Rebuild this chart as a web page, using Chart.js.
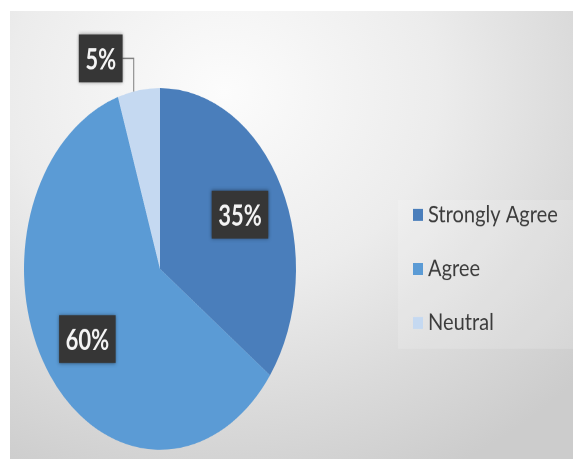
<!DOCTYPE html>
<html><head><meta charset="utf-8">
<script src="https://cdn.jsdelivr.net/npm/chart.js@4"></script>
<style>
html,body{margin:0;padding:0;background:#fff;width:573px;height:459px;overflow:hidden}
#frame{position:absolute;left:10px;top:11px;width:563px;height:448px;
 background:radial-gradient(ellipse 85% 95% at 38% 18%, #fcfcfc 0%, #ececec 45%, #dadada 75%, #cccccc 100%);}
#wrap{position:absolute;left:0;top:0;width:563px;height:337px;transform:scaleY(1.3294);transform-origin:0 0}
</style></head>
<body>
<div id="frame"><div id="wrap"><canvas id="c"></canvas></div></div>
<script>
const categories = ['Strongly Agree', 'Agree', 'Neutral'];
const values = [35, 60, 5];
const colors = ['#4a7ebb', '#5b9bd5', '#c5d9f1'];

const FONT = 'Lato, "Open Sans", sans-serif';

const legendPlugin = {
  id: 'sideLegend',
  afterDraw(chart) {
    const ctx = chart.ctx;
    const ca = chart.chartArea;
    const cy = (ca.top + ca.bottom) / 2;
    ctx.save();
    ctx.fillStyle = 'rgba(255,255,255,0.16)';
    ctx.fillRect(388, cy - 52, 175, 112);
    const labels = chart.data.labels;
    const bg = chart.data.datasets[0].backgroundColor;
    ctx.font = '17px ' + FONT;
    ctx.textBaseline = 'middle';
    labels.forEach((lab, i) => {
      const y = cy + (i - 1) * 40.6;
      ctx.fillStyle = bg[i];
      ctx.fillRect(403, y - 4.5, 10, 9);
      ctx.save();
      ctx.translate(418, y);
      ctx.scale(1.18, 1);
      ctx.fillStyle = '#3c3c3c';
      ctx.fillText(lab, 0, 0);
      ctx.restore();
    });
    ctx.restore();
  }
};

const labelPlugin = {
  id: 'boxLabels',
  afterDatasetsDraw(chart) {
    const ctx = chart.ctx;
    const meta = chart.getDatasetMeta(0);
    const data = chart.data.datasets[0].data;
    const total = data.reduce((a, b) => a + b, 0);
    ctx.save();
    ctx.font = 'bold 22px ' + FONT;
    ctx.textAlign = 'center';
    ctx.textBaseline = 'middle';
    meta.data.forEach((arc, i) => {
      const p = arc.getProps(['x', 'y', 'startAngle', 'endAngle', 'outerRadius'], true);
      const mid = (p.startAngle + p.endAngle) / 2;
      const text = data[i] + '%';
      const tw = ctx.measureText(text).width;
      const w = tw + 13, h = 36;
      let bx, by;
      if (data[i] / total >= 0.1) {
        bx = p.x + Math.cos(mid) * p.outerRadius * 0.66;
        by = p.y + Math.sin(mid) * p.outerRadius * 0.66;
      } else {
        const ox = p.x + Math.cos(mid) * p.outerRadius;
        const oy = p.y + Math.sin(mid) * p.outerRadius;
        bx = ox - 38; by = oy - 24;
        ctx.strokeStyle = '#7f7f7f';
        ctx.lineWidth = 1;
        ctx.beginPath();
        ctx.moveTo(bx + w / 2, by);
        ctx.lineTo(ox - 5, by);
        ctx.lineTo(ox - 5, oy + 1);
        ctx.stroke();
      }
      ctx.shadowColor = 'rgba(0,0,0,0.45)';
      ctx.shadowBlur = 6;
      ctx.fillStyle = '#363636';
      ctx.fillRect(bx - w / 2, by - h / 2, w, h);
      ctx.shadowBlur = 0;
      ctx.shadowColor = 'transparent';
      ctx.fillStyle = '#f4f4f4';
      ctx.fillText(text, bx, by + 1);
    });
    ctx.restore();
  }
};

new Chart(document.getElementById('c'), {
  type: 'pie',
  data: {
    labels: categories,
    datasets: [{ data: values, backgroundColor: colors, borderWidth: 0 }]
  },
  options: {
    responsive: true,
    maintainAspectRatio: false,
    animation: false,
    devicePixelRatio: 2,
    layout: { padding: { left: 14, right: 277, top: 58, bottom: 7 } },
    plugins: { legend: { display: false }, tooltip: { enabled: false } }
  },
  plugins: [legendPlugin, labelPlugin]
});
</script>
</body></html>
